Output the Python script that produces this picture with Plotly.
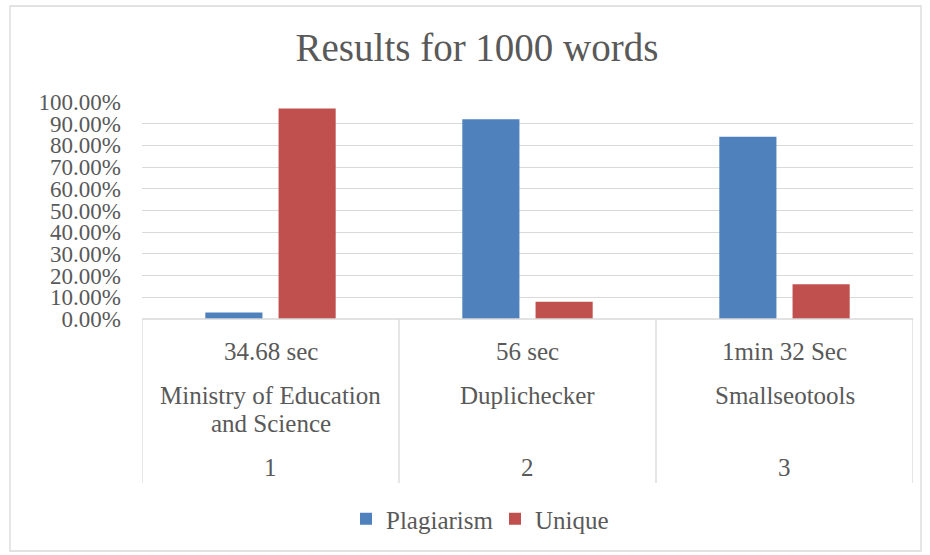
import plotly.graph_objects as go

# Data
tools = ["Ministry of Education<br>and Science", "Duplichecker", "Smallseotools"]
times = ["34.68 sec", "56 sec", "1min 32 Sec"]
indices = ["1", "2", "3"]
plagiarism = [0.03, 0.92, 0.84]
unique = [0.97, 0.08, 0.16]
series_names = ["Plagiarism", "Unique"]
colors = ["#4f81bd", "#c0504d"]
title_text = "Results for 1000 words"

W, H = 930, 555
L, R, T, B = 142, 17, 102, 236
plot_h = H - T - B
plot_w = W - L - R

def py(pix):  # pixel y -> paper y
    return (H - B - pix) / plot_h

def px(pix):
    return (pix - L) / plot_w

font_family = "Liberation Serif"
gray = "#595959"
grid = "#d9d9d9"
cat_size = 25

fig = go.Figure()
for name, vals, col in zip(series_names, [plagiarism, unique], colors):
    fig.add_trace(go.Bar(x=indices, y=vals, name=name, marker=dict(color=col, line=dict(width=0))))

fig.update_layout(
    width=W, height=H,
    margin=dict(l=L, r=R, t=T, b=B),
    paper_bgcolor="white", plot_bgcolor="white",
    barmode="group", bargap=0.43, bargroupgap=0.22,
    title=dict(text=title_text, x=477 / W, xanchor="center", y=1 - 47 / H, yanchor="middle",
               font=dict(family=font_family, size=39, color=gray)),
    font=dict(family=font_family, color=gray),
    showlegend=True,
    legend=dict(orientation="h", x=px(346), xanchor="left", y=py(519), yanchor="middle",
                font=dict(family=font_family, size=25, color=gray), traceorder="normal",
                itemwidth=30, entrywidth=104, entrywidthmode="pixels"),
    xaxis=dict(type="category", showticklabels=False, showgrid=False, zeroline=False, showline=False,
               ticks="", range=[-0.5, 2.5], automargin=False),
    yaxis=dict(range=[0, 1.0], dtick=0.1, tickformat=".2%", showgrid=True, gridcolor=grid, gridwidth=1.3,
               zeroline=False, showline=False, ticks="", tickfont=dict(family=font_family, size=23, color=gray),
               ticklabelstandoff=20, automargin=False),
)

# category table lines
shapes = []
for b in [-0.5, 0.5, 1.5, 2.5]:
    shapes.append(dict(type="line", xref="x", yref="paper", x0=b, x1=b, y0=0, y1=py(483),
                       line=dict(color=grid, width=1.3)))
shapes.append(dict(type="line", xref="x", yref="paper", x0=-0.5, x1=2.5, y0=0, y1=0,
                   line=dict(color=grid, width=1.3)))
# outer chart border
shapes.append(dict(type="rect", xref="paper", yref="paper", x0=px(10), x1=px(921), y0=py(551), y1=py(6),
                   line=dict(color=grid, width=1.3), fillcolor="rgba(0,0,0,0)", layer="below"))
fig.update_layout(shapes=shapes)

anns = []
line_gap = 28
for i, (idx, t, name) in enumerate(zip(indices, times, tools)):
    anns.append(dict(x=i, xref="x", y=py(351), yref="paper", text=t, showarrow=False,
                     font=dict(family=font_family, size=cat_size, color=gray), yanchor="middle"))
    for k, part in enumerate(name.split("<br>")):
        anns.append(dict(x=i, xref="x", y=py(395 + k * line_gap), yref="paper", text=part, showarrow=False,
                         font=dict(family=font_family, size=cat_size, color=gray), yanchor="middle"))
    anns.append(dict(x=i, xref="x", y=py(467), yref="paper", text=idx, showarrow=False,
                     font=dict(family=font_family, size=cat_size, color=gray), yanchor="middle"))
fig.update_layout(annotations=anns)

fig.write_html("out.html", config={"displayModeBar": False},
               post_script="document.body.style.margin='0';")
